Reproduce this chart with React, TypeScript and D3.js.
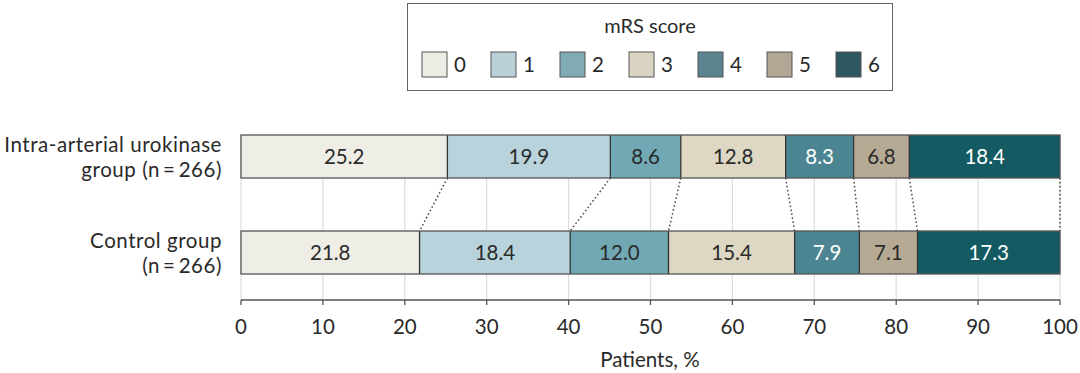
import React from "react";
import * as d3 from "d3";

const scores = ["0", "1", "2", "3", "4", "5", "6"];
const groups = ["Intra-arterial urokinase group (n = 266)", "Control group (n = 266)"];
const groupLines = [["Intra-arterial urokinase", "group (n\u2009=\u2009266)"], ["Control group", "(n\u2009=\u2009266)"]];
const urokinaseValues = [25.2, 19.9, 8.6, 12.8, 8.3, 6.8, 18.4];
const controlValues = [21.8, 18.4, 12.0, 15.4, 7.9, 7.1, 17.3];
const xTicks = [0, 10, 20, 30, 40, 50, 60, 70, 80, 90, 100];

const barColors = ["#eeeee6", "#b8d3db", "#70a8b4", "#ddd7c3", "#4b8591", "#b6aa95", "#135a62"];
const legendColors = ["#ecece4", "#b9d2da", "#80abb6", "#d9d4c3", "#5b8390", "#b1a794", "#2e5663"];
const labelColors = ["#2a2a2a", "#2a2a2a", "#2a2a2a", "#2a2a2a", "#fff", "#2a2a2a", "#fff"];

const FONT = "Lato, sans-serif";

export default function App() {
  const width = 1080;
  const height = 373;
  const x = d3.scaleLinear().domain([0, 100]).range([241, 1060]);
  const bh = 43;
  const yTop = (g: string) => (g === groups[0] ? 135 : 231);

  const series = [urokinaseValues, controlValues];
  const stacks = series.map((vals) => {
    let c = 0;
    return vals.map((v) => {
      const s = c;
      c += v;
      return [s, c];
    });
  });

  const axisY = 300;

  return (
    <svg width={width} height={height} style={{ position: "absolute", left: 0, top: 0 }} fontFamily={FONT}>
      <rect x={0} y={0} width={width} height={height} fill="#fff" />
      {/* legend */}
      <rect x={407.5} y={3.5} width={485} height={87} fill="#fff" stroke="#666" strokeWidth={1} />
      <text x={650} y={33} textAnchor="middle" fontSize={20} fill="#2a2a2a">mRS score</text>
      {scores.map((s, i) => (
        <g key={s} transform={`translate(${422 + i * 69},52)`}>
          <rect x={0} y={0} width={25} height={25} fill={legendColors[i]} stroke="#555" strokeWidth={1} />
          <text x={32} y={20} fontSize={20.5} fill="#2a2a2a">{s}</text>
        </g>
      ))}

      {/* gridlines */}
      {xTicks.map((t) => (
        <line key={t} x1={x(t)} x2={x(t)} y1={135} y2={axisY} stroke="#ddd" strokeWidth={1.2} />
      ))}

      {/* connectors */}
      {stacks[0].map((d, i) => (
        <line
          key={"c" + i}
          x1={x(d[1])}
          y1={yTop(groups[0]) + bh}
          x2={x(i === stacks[1].length - 1 ? 100 : stacks[1][i][1])}
          y2={yTop(groups[1])}
          stroke="#444"
          strokeWidth={1.5}
          strokeDasharray="1.5,2.5"
        />
      ))}

      {/* bars */}
      {groups.map((g, gi) => (
        <g key={g}>
          {stacks[gi].map((d, i) => {
            const x0 = x(d[0]);
            const x1 = i === stacks[gi].length - 1 ? x(100) : x(d[1]);
            return (
              <g key={i}>
                <rect x={x0} y={yTop(g)} width={x1 - x0} height={bh} fill={barColors[i]} />
                <text
                  x={(x0 + x1) / 2}
                  y={yTop(g) + bh / 2 + 7}
                  textAnchor="middle"
                  fontSize={20.5}
                  fill={labelColors[i]}
                >
                  {series[gi][i].toFixed(1)}
                </text>
              </g>
            );
          })}
          {stacks[gi].slice(0, -1).map((d, i) => (
            <line key={"s" + i} x1={x(d[1])} x2={x(d[1])} y1={yTop(g)} y2={yTop(g) + bh} stroke="#333" strokeWidth={1.3} />
          ))}
          <rect x={x(0)} y={yTop(g)} width={x(100) - x(0)} height={bh} fill="none" stroke="#555" strokeWidth={1.3} />
          {groupLines[gi].map((line, li) => (
            <text key={li} x={222} y={yTop(g) + 17 + li * 25} textAnchor="end" fontSize={20.5} letterSpacing={0.55} fill="#2a2a2a">
              {line}
            </text>
          ))}
        </g>
      ))}

      {/* axis */}
      <line x1={x(0)} x2={x(100)} y1={axisY} y2={axisY} stroke="#555" strokeWidth={1.3} />
      {xTicks.map((t) => (
        <g key={"t" + t}>
          <line x1={x(t)} x2={x(t)} y1={axisY} y2={axisY + 5} stroke="#555" strokeWidth={1.3} />
          <text x={x(t)} y={axisY + 34} textAnchor="middle" fontSize={20.5} fill="#2a2a2a">{t}</text>
        </g>
      ))}
      <text x={650} y={367} textAnchor="middle" fontSize={20.5} fill="#2a2a2a">Patients, %</text>
    </svg>
  );
}
